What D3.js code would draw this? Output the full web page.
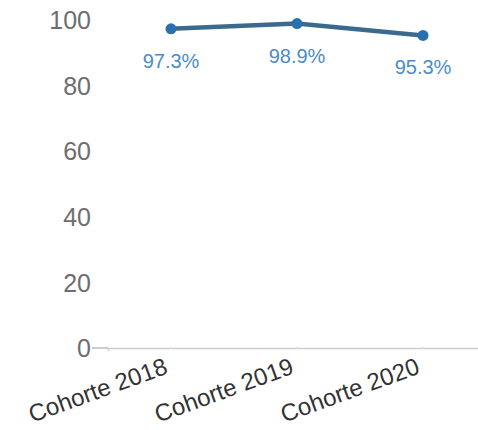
<!DOCTYPE html>
<html>
<head>
<meta charset="utf-8">
<script src="https://cdn.jsdelivr.net/npm/d3@7"></script>
<style>
  body { margin: 0; background: #fff; }
  svg { display: block; font-family: 'Liberation Sans', Arial, sans-serif; }
</style>
</head>
<body>
<svg id="chart"></svg>
<script>
const cohorts = ['Cohorte 2018', 'Cohorte 2019', 'Cohorte 2020'];
const rates = [97.3, 98.9, 95.3];
const yTicks = [0, 20, 40, 60, 80, 100];

const width = 478;
const height = 430;

const data = cohorts.map((c, i) => ({cohort: c, rate: rates[i]}));

const svg = d3.select('#chart')
.attr('width', width)
.attr('height', height);

const x = d3.scaleBand()
.domain(cohorts)
.range([108, 486]);

const y = d3.scaleLinear()
.domain([0, 100])
.range([348, 20]);

// y axis labels, no domain line
const yAxis = svg.append('g')
.attr('transform', 'translate(93, 0)')
.call(d3.axisLeft(y).tickValues(yTicks).tickSize(1).tickPadding(1));
yAxis.select('.domain').remove();
yAxis.selectAll('.tick line').attr('stroke', '#e4e4e4');
yAxis.selectAll('.tick text')
.attr('fill', '#6e6e6e')
.style('font-size', '25px')
.attr('dy', '0.35em');

// short stub at zero
svg.append('line')
.attr('x1', 92)
.attr('x2', 108)
.attr('y1', y(0))
.attr('y2', y(0))
.attr('stroke', '#999')
.attr('stroke-width', 1);

// x axis
const xAxis = svg.append('g')
.attr('transform', `translate(0, ${y(0)})`)
.call(d3.axisBottom(x).tickSize(3).tickSizeOuter(3));
xAxis.select('.domain').attr('stroke', '#ccc').attr('stroke-width', 1.5);
xAxis.selectAll('.tick line').attr('stroke', '#e0e0e0').attr('transform', 'translate(0,-2)');
xAxis.selectAll('.tick text')
.attr('fill', '#333')
.style('font-size', '24px')
.attr('text-anchor', 'end')
.attr('y', 0)
.attr('dy', 0)
.attr('transform', 'translate(-2, 25) rotate(-20)');

const line = d3.line()
.x(d => x(d.cohort) + x.bandwidth() / 2)
.y(d => y(d.rate));

svg.append('path')
.datum(data)
.attr('fill', 'none')
.attr('stroke', '#3b6a8f')
.attr('stroke-width', 4.5)
.attr('d', line);

svg.selectAll('circle')
.data(data)
.enter()
.append('circle')
.attr('cx', d => x(d.cohort) + x.bandwidth() / 2)
.attr('cy', d => y(d.rate))
.attr('r', 5.5)
.attr('fill', '#2a6fb0');

svg.selectAll('.value-label')
.data(data)
.enter()
.append('text')
.attr('class', 'value-label')
.attr('x', d => x(d.cohort) + x.bandwidth() / 2)
.attr('y', d => y(d.rate) + 39)
.attr('text-anchor', 'middle')
.attr('fill', '#4a8ccb')
.style('font-size', '20px')
.text(d => d.rate.toFixed(1) + '%');
</script>
</body>
</html>
